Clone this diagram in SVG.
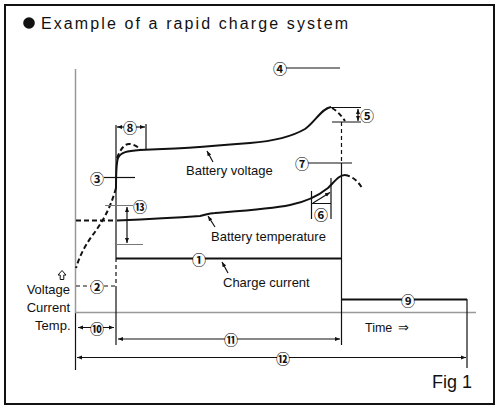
<svg xmlns="http://www.w3.org/2000/svg" width="500" height="409" viewBox="0 0 500 409">
<defs>
<style>
.t{font-family:"Liberation Sans",Arial,sans-serif;fill:#111}
.n{font-family:"Noto Sans CJK JP","DejaVu Sans",sans-serif;font-size:14px;font-weight:700;text-anchor:middle;dominant-baseline:central;fill:#111}
.bg{fill:#fff}
.thin{stroke:#111;stroke-width:1.2;fill:none}
.gray{stroke:#999;stroke-width:1.5;fill:none}
.gthin{stroke:#777;stroke-width:1.2;fill:none}
.thick{stroke:#111;stroke-width:2;fill:none}
.dash{stroke:#111;stroke-width:2;fill:none;stroke-dasharray:5 3}
.dthin{stroke:#111;stroke-width:1.2;fill:none;stroke-dasharray:4 3}
</style>
<marker id="ah" viewBox="0 0 10 10" refX="10" refY="5" markerWidth="5" markerHeight="5" markerUnits="userSpaceOnUse" orient="auto-start-reverse">
<path d="M0,1 L10,5 L0,9 z" fill="#111"/>
</marker>
</defs>
<rect x="5" y="5" width="489" height="399" fill="#fff" stroke="#111" stroke-width="2"/>
<g id="title">
<circle cx="29" cy="23" r="5.8" fill="#111"/>
<text class="t" x="41" y="28.5" font-size="16" textLength="307" lengthAdjust="spacing">Example of a rapid charge system</text>
</g>
<g id="axes">
<path class="gray" d="M75.5,69 V312.5"/>
<path class="thin" d="M75.5,312.5 V370"/>
<path class="gray" d="M75,312.5 H476"/>
</g>
<g id="curves">
<path id="charge-current" class="thick" d="M116,258.5 H341.5 M341.5,299.5 H467"/>
<path id="voltage" class="thick" d="M116,188 C116,172 116,164 118,158 C121,152 127,151 140,150 C175,149 215,146 250,143 C275,141 293,136 305,129 C315,122 322,108 331,107"/>
<path class="dash" d="M332,108 C337,111 341,115 345,121"/>
<path class="dash" d="M117,158 C120,150 124,144 129,144 C134,144 138,147 141,150"/>
<path class="dash" d="M116,188 C110,210 101,224 92,236 C84,247 79,258 76,268"/>
<path id="temperature" class="thick" d="M117,220.5 C150,219 185,217 200,216 C205,215 209,213 215,213 C240,211 270,209 290,205 C305,202 318,196 328,188 C335,181 339,175 345,175"/>
<path class="dash" d="M345,175 C352,176 358,181 362,188"/>
<path class="dash" d="M76,220.5 H115"/>
</g>
<g id="connectors">
<path class="thin" d="M116,125 V258"/>
<path class="dthin" d="M116,258 V286"/>
<path class="thin" d="M116,286 V345"/>
<path class="dthin" d="M341.5,122 V163"/>
<path class="thin" d="M341.5,163 V345"/>
<path class="thin" d="M467,299 V368"/>
<path class="dthin" d="M76,286 H115"/>
<path class="thin" d="M78,327.5 H114" marker-start="url(#ah)" marker-end="url(#ah)"/>
<path class="thin" d="M118,339 H340" marker-start="url(#ah)" marker-end="url(#ah)"/>
<path class="thin" d="M77,357.5 H466" marker-start="url(#ah)" marker-end="url(#ah)"/>
<path class="gthin" d="M105,205.5 H133 M116,244.5 H143"/>
<path class="thin" d="M127,207 V243" marker-start="url(#ah)" marker-end="url(#ah)"/>
<path class="thin" d="M104,177.5 H135"/>
<path class="thin" d="M117,127 H145" marker-start="url(#ah)" marker-end="url(#ah)"/>
<path class="thin" d="M146,124 V149"/>
<path class="thin" d="M286,68 H340"/>
<path class="thin" d="M330,107.5 H361 M332,122 H361"/>
<path class="thin" d="M358,109 V121" marker-start="url(#ah)" marker-end="url(#ah)"/>
<path class="thin" d="M307,163 H352"/>
<path class="thin" d="M311.5,191 V219 M331,178 V219 M312,203.5 H331"/>
<path class="thin" d="M313,203 L330,192.5" marker-end="url(#ah)"/>
<path class="thin" d="M213,162 L207,151" marker-end="url(#ah)"/>
<path class="thin" d="M215,227 L208,216" marker-end="url(#ah)"/>
<path class="thin" d="M228,273 L222,262" marker-end="url(#ah)"/>
</g>
<g id="markers">
<g id="m1"><circle class="bg" cx="199" cy="258.5" r="6"/><text class="n" x="199" y="258.5">①</text></g>
<g id="m2"><circle class="bg" cx="97" cy="286" r="6"/><text class="n" x="97" y="286">②</text></g>
<g id="m3"><circle class="bg" cx="97" cy="177.5" r="6"/><text class="n" x="97" y="177.5">③</text></g>
<g id="m4"><circle class="bg" cx="280" cy="68" r="6"/><text class="n" x="280" y="68">④</text></g>
<g id="m5"><circle class="bg" cx="367" cy="115" r="6"/><text class="n" x="367" y="115">⑤</text></g>
<g id="m6"><circle class="bg" cx="321" cy="214" r="6"/><text class="n" x="321" y="214">⑥</text></g>
<g id="m7"><circle class="bg" cx="302" cy="163" r="6"/><text class="n" x="302" y="163">⑦</text></g>
<g id="m8"><circle class="bg" cx="130" cy="127" r="6"/><text class="n" x="130" y="127">⑧</text></g>
<g id="m9"><circle class="bg" cx="408" cy="299.5" r="6"/><text class="n" x="408" y="299.5">⑨</text></g>
<g id="m10"><circle class="bg" cx="97" cy="327.5" r="6"/><text class="n" x="97" y="327.5">⑩</text></g>
<g id="m11"><circle class="bg" cx="231" cy="339" r="6"/><text class="n" x="231" y="339">⑪</text></g>
<g id="m12"><circle class="bg" cx="283" cy="357.5" r="6"/><text class="n" x="283" y="357.5">⑫</text></g>
<g id="m13"><circle class="bg" cx="140" cy="205.5" r="6"/><text class="n" x="140" y="205.5">⑬</text></g>
</g>
<g id="labels">
<text class="t" font-size="13" x="186" y="175">Battery voltage</text>
<text class="t" font-size="13" x="211" y="241">Battery temperature</text>
<text class="t" font-size="13" x="223" y="287">Charge current</text>
<path id="up-arrow" d="M62,270.5 L66,275 H63.8 V279.5 H60.2 V275 H58 Z" fill="#fff" stroke="#111" stroke-width="1"/>
<text class="t" font-size="13" x="70" y="294" text-anchor="end">Voltage</text>
<text class="t" font-size="13" x="70" y="312" text-anchor="end">Current</text>
<text class="t" font-size="13" x="70.5" y="330" text-anchor="end">Temp.</text>
<text class="t" x="365" y="332" font-size="12.5">Time<tspan x="398" font-family="'DejaVu Sans',sans-serif" font-size="13">⇒</tspan></text>
<text class="t" x="432" y="388" font-size="18">Fig 1</text>
</g>
</svg>
